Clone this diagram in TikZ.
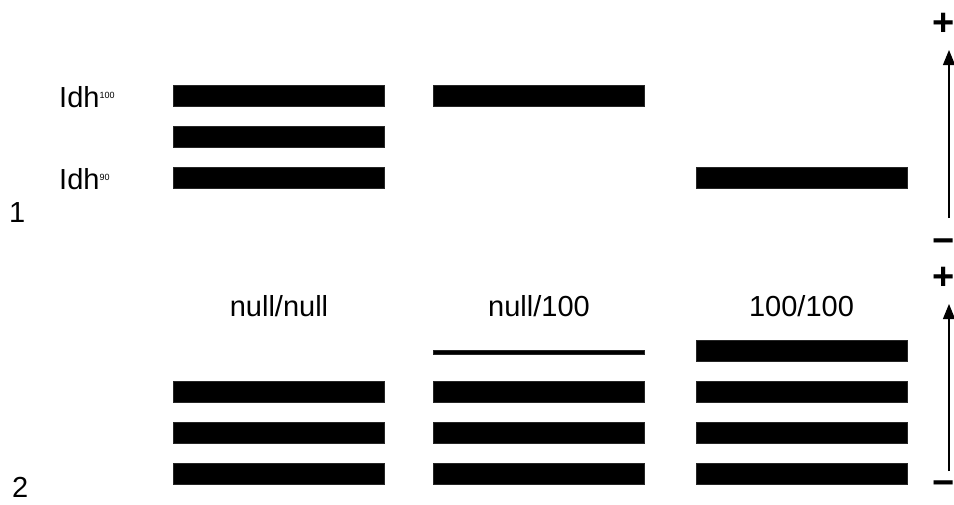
\documentclass[tikz,border=0pt]{standalone}
\usepackage{fontspec}
\setmainfont{Liberation Sans}
\usetikzlibrary{arrows.meta}
\tikzset{
  band/.style={fill=black, draw=black!85, line width=0.6pt, minimum width=211pt, minimum height=21pt, inner sep=0pt, anchor=center},
  thinband/.style={fill=black, draw=black!85, line width=0.6pt, minimum width=211pt, minimum height=4pt, inner sep=0pt, anchor=center},
  lab/.style={font=\fontsize{29}{34}\selectfont, inner sep=0pt, anchor=base},
  sgn/.style={font=\fontsize{38}{40}\selectfont\bfseries, inner sep=0pt, anchor=center},
  axis/.style={line width=1.2pt, -{Triangle[width=12pt,length=15pt]}}
}
\begin{document}
\begin{tikzpicture}[x=1pt,y=-1pt]
\useasboundingbox (0,0) rectangle (954,504);
% top panel
\node[band] (a1) at (279,96) {};
\node[band] (a2) at (279,137) {};
\node[band] (a3) at (279,177.5) {};
\node[band] (b1) at (539,96) {};
\node[band] (c3) at (801.5,177.5) {};
\node[lab, anchor=base west] (idh100) at (59,107) {Idh\raisebox{9pt}{\fontsize{9}{10}\selectfont 100}};
\node[lab, anchor=base west] (idh90) at (59,189) {Idh\raisebox{9pt}{\fontsize{9}{10}\selectfont 90}};
\node[lab, anchor=base west] (one) at (9,222) {1};
% bottom panel
\node[lab] (nn) at (279,316) {null/null};
\node[lab] (n1) at (539,316) {null/100};
\node[lab] (hh) at (801.5,316) {100/100};
\node[band] (d1) at (279,391.5) {};
\node[band] (d2) at (279,433) {};
\node[band] (d3) at (279,474) {};
\node[thinband] (e0) at (539,352) {};
\node[band] (e1) at (539,391.5) {};
\node[band] (e2) at (539,433) {};
\node[band] (e3) at (539,474) {};
\node[band] (f0) at (801.5,351) {};
\node[band] (f1) at (801.5,391.5) {};
\node[band] (f2) at (801.5,433) {};
\node[band] (f3) at (801.5,474) {};
\node[lab, anchor=base west] (two) at (12,497) {2};
% axes
\coordinate (t0) at (949,218);
\coordinate (t1) at (949,50);
\coordinate (u0) at (949,471);
\coordinate (u1) at (949,304);
\draw[axis] (t0) -- (t1);
\draw[axis] (u0) -- (u1);
\node[sgn] (tp) at (944,24) {+};
\node[sgn] (tm) at (944,246) {\textminus};
\node[sgn] (up) at (944,278) {+};
\node[sgn] (um) at (944,488) {\textminus};
\end{tikzpicture}
\end{document}
